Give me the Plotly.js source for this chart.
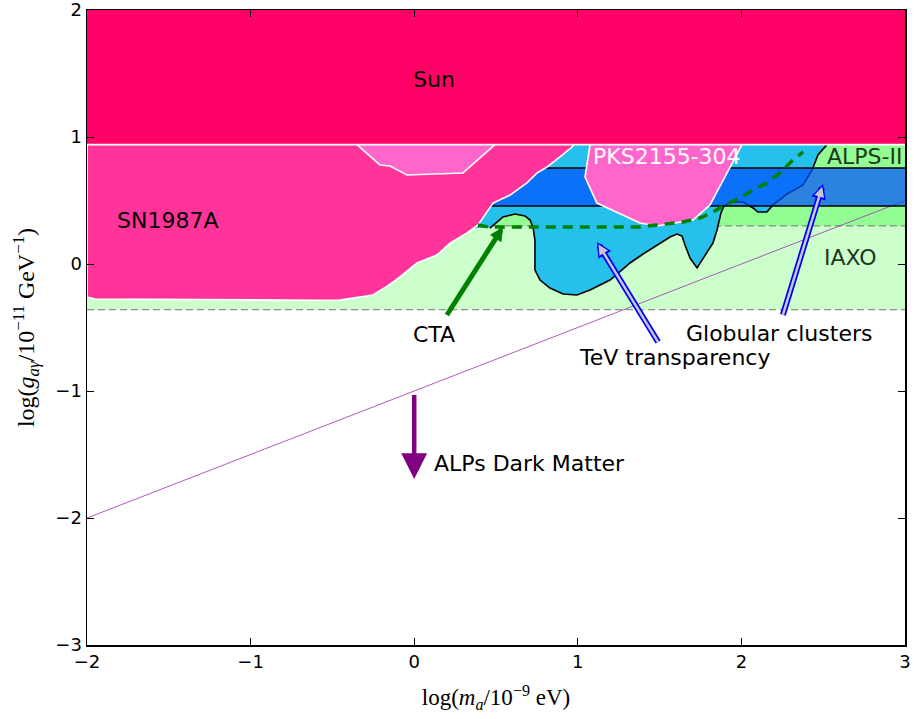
<!DOCTYPE html>
<html>
<head>
<meta charset="utf-8">
<script src="https://cdn.plot.ly/plotly-3.0.1.min.js"></script>
<style>html,body{margin:0;padding:0;background:#fff;}</style>
</head>
<body>
<div id="plot" style="width:914px;height:719px;"></div>
<script>
// ---- data ----
var x_range = [-2, 3];
var sun_low = 0.94, sun_high = 2;
var alps_low = 0.3;
var iaxo_low = -0.36;
var gc_low = 0.457, gc_high = 0.756;

// SN1987A excluded region boundary
var sn_x = [-2, -2, -1.95, -1.5, -1.0, -0.6, -0.454, -0.36, -0.252, -0.16, -0.087, 0.017, 0.139, 0.219, 0.323, 0.390, 0.482, 0.586, 0.689, 0.751, 0.812, 0.891, 0.965, 0.975];
var sn_y = [0.94, -0.26, -0.275, -0.28, -0.285, -0.285, -0.283, -0.265, -0.244, -0.17, -0.102, 0.008, 0.071, 0.165, 0.244, 0.307, 0.480, 0.543, 0.638, 0.717, 0.764, 0.843, 0.921, 0.94];

// PKS2155-304 regions
var pks1_x = [-0.35, -0.209, -0.148, -0.044, 0.298, 0.494];
var pks1_y = [0.94, 0.780, 0.772, 0.701, 0.717, 0.94];
var pks2_x = [1.075, 1.044, 1.117, 1.250, 1.380, 1.484, 1.704, 1.808, 1.930, 2.004];
var pks2_y = [0.94, 0.685, 0.480, 0.400, 0.323, 0.299, 0.346, 0.465, 0.764, 0.94];

// TeV transparency region, lower contour
var tev_x = [0.463, 0.506, 0.543, 0.616, 0.677, 0.708, 0.726, 0.738, 0.738, 0.769, 0.830, 0.910, 0.995, 1.075, 1.197, 1.270, 1.319, 1.399, 1.484, 1.564, 1.606, 1.637, 1.655, 1.686, 1.729, 1.753, 1.790, 1.826, 1.851, 1.875, 1.894, 1.930, 2.010, 2.071, 2.101, 2.156, 2.193, 2.279, 2.377, 2.432, 2.468, 2.493, 2.523];
var tev_y = [0.283, 0.331, 0.370, 0.394, 0.378, 0.346, 0.291, 0.189, -0.047, -0.126, -0.189, -0.236, -0.244, -0.205, -0.126, -0.047, 0.008, 0.079, 0.150, 0.213, 0.236, 0.220, 0.150, 0.047, -0.031, 0.016, 0.087, 0.165, 0.268, 0.402, 0.457, 0.488, 0.488, 0.441, 0.409, 0.409, 0.465, 0.551, 0.622, 0.740, 0.858, 0.898, 0.94];
var tev_left = 0.35;

// CTA sensitivity (dashed)
var cta_x = [0.390, 0.46, 0.55, 0.80, 1.136, 1.380, 1.484, 1.643, 1.747, 1.826, 1.888, 1.991, 2.071, 2.156, 2.236, 2.315, 2.377];
var cta_y = [0.307, 0.29, 0.292, 0.291, 0.291, 0.291, 0.307, 0.331, 0.362, 0.409, 0.457, 0.520, 0.583, 0.638, 0.717, 0.819, 0.882];

// ALPs dark matter line
var dm_x = [-2, 3];
var dm_y = [-2, 0.5];

// ---- build traces ----
function rect(x0, x1, y0, y1) { return {x: [x0, x1, x1, x0, x0], y: [y0, y0, y1, y1, y0]}; }
var traces = [];
var r;
r = rect(x_range[0], x_range[1], iaxo_low, alps_low);
traces.push({x: r.x, y: r.y, fill: 'toself', fillcolor: '#ccffcc', line: {width: 0}, mode: 'lines', hoverinfo: 'skip'});
r = rect(x_range[0], x_range[1], alps_low, sun_low);
traces.push({x: r.x, y: r.y, fill: 'toself', fillcolor: '#93fc93', line: {width: 0}, mode: 'lines', hoverinfo: 'skip'});
// gray dashed boundaries
traces.push({x: x_range, y: [iaxo_low, iaxo_low], mode: 'lines', line: {color: '#777', width: 1, dash: '7px,4px'}, hoverinfo: 'skip'});
traces.push({x: x_range, y: [alps_low, alps_low], mode: 'lines', line: {color: '#777', width: 1, dash: '7px,4px'}, hoverinfo: 'skip'});
// dark matter line
traces.push({x: dm_x, y: dm_y, mode: 'lines', line: {color: '#9933aa', width: 0.8}, hoverinfo: 'skip'});
// TeV fill
var tfx = [tev_left].concat(tev_x).concat([tev_left, tev_left]);
var tfy = [tev_y[0]].concat(tev_y).concat([sun_low, tev_y[0]]);
traces.push({x: tfx, y: tfy, fill: 'toself', fillcolor: '#26c0ec', line: {width: 0}, mode: 'lines', hoverinfo: 'skip'});
traces.push({x: tev_x, y: tev_y, mode: 'lines', line: {color: '#000', width: 1.6}, hoverinfo: 'skip'});
// Globular clusters band
r = rect(x_range[0], x_range[1], gc_low, gc_high);
traces.push({x: r.x, y: r.y, fill: 'toself', fillcolor: 'rgba(0,80,255,0.7)', line: {width: 0}, mode: 'lines', hoverinfo: 'skip'});
traces.push({x: x_range, y: [gc_low, gc_low], mode: 'lines', line: {color: '#000', width: 1.6}, hoverinfo: 'skip'});
traces.push({x: x_range, y: [gc_high, gc_high], mode: 'lines', line: {color: '#000', width: 1.6}, hoverinfo: 'skip'});
// PKS regions
traces.push({x: pks2_x, y: pks2_y, fill: 'toself', fillcolor: '#ff66cc', line: {color: '#fff', width: 1.6}, mode: 'lines', hoverinfo: 'skip'});
// SN1987A
traces.push({x: sn_x, y: sn_y, fill: 'toself', fillcolor: '#ff3399', line: {color: '#fff', width: 1.6}, mode: 'lines', hoverinfo: 'skip'});
traces.push({x: pks1_x, y: pks1_y, fill: 'toself', fillcolor: '#ff66cc', line: {color: '#fff', width: 1.6}, mode: 'lines', hoverinfo: 'skip'});
// Sun
r = rect(x_range[0], x_range[1], sun_low, sun_high);
traces.push({x: r.x, y: r.y, fill: 'toself', fillcolor: '#ff0066', line: {width: 0}, mode: 'lines', hoverinfo: 'skip'});
traces.push({x: x_range, y: [sun_low, sun_low], mode: 'lines', line: {color: '#fff', width: 1.8}, hoverinfo: 'skip'});
// CTA
traces.push({x: cta_x, y: cta_y, mode: 'lines', line: {color: '#008000', width: 3.5, dash: '10px,7px'}, hoverinfo: 'skip'});

var txtFamily = 'DejaVu Sans, sans-serif';
function label(x, y, t, color, anchor) {
  return {x: x, y: y, text: t, showarrow: false, xanchor: anchor || 'center', yanchor: 'middle',
          font: {family: txtFamily, size: 22, color: color || '#000'}};
}
function arrow(x, y, ax, ay, color, w, head, size, standoff) {
  return {x: x, y: y, ax: ax, ay: ay, axref: 'x', ayref: 'y', xref: 'x', yref: 'y', text: ' ',
          font: {size: 2}, showarrow: true, arrowcolor: color, arrowwidth: w, arrowhead: head, arrowsize: size,
          standoff: standoff || 0, startstandoff: 0};
}
var annotations = [
  label(0.121, 1.449, 'Sun'),
  label(-1.505, 0.346, 'SN1987A'),
  label(1.545, 0.843, 'PKS2155-304', '#ffffff'),
  label(2.755, 0.843, 'ALPS-II', '#1b3a1b'),
  label(2.664, 0.055, 'IAXO', '#1b3a1b'),
  label(0.121, -0.559, 'CTA'),
  label(1.588, -0.740, 'TeV transparency'),
  label(2.230, -0.551, 'Globular clusters'),
  label(0.11, -1.567, 'ALPs Dark Matter', '#000', 'left'),
  arrow(0.543, 0.291, 0.188, -0.425, '#008000', 5, 2, 0.55),
  arrow(1.117, 0.173, 1.502, -0.638, '#0000ff', 6, 2, 0.5),
  arrow(1.117, 0.173, 1.502, -0.638, '#c8c8d0', 2.5, 2, 0.8, 3),
  arrow(2.499, 0.630, 2.248, -0.425, '#0000ff', 6, 2, 0.5),
  arrow(2.499, 0.630, 2.248, -0.425, '#c8c8d0', 2.5, 2, 0.8, 3),
  arrow(0, -1.693, 0, -1.008, '#800080', 4.5, 2, 1.15)
];

var axisCommon = {
  showgrid: false, zeroline: false, showline: true, linecolor: '#000', linewidth: 1.5,
  mirror: 'ticks', ticks: 'inside', ticklen: 7, tickwidth: 1, tickcolor: '#000',
  dtick: 1, ticklabeloverflow: 'allow',
  tickfont: {family: 'DejaVu Sans, sans-serif', size: 18, color: '#000'}
};
var layout = {
  width: 914, height: 719,
  margin: {l: 87, r: 9, t: 10, b: 74},
  paper_bgcolor: '#fff', plot_bgcolor: '#fff',
  showlegend: false,
  xaxis: Object.assign({}, axisCommon, {range: x_range, tick0: -2,
    title: {text: 'log(<i>m</i><sub><i>a</i></sub>/10<sup>−9</sup> eV)', standoff: 18,
            font: {family: 'Liberation Serif, DejaVu Serif, serif', size: 23, color: '#000'}}}),
  yaxis: Object.assign({}, axisCommon, {range: [-3, 2], tick0: -3,
    title: {text: 'log(<i>g</i><sub><i>aγ</i></sub>/10<sup>−11</sup> GeV<sup>−1</sup>)', standoff: 14,
            font: {family: 'Liberation Serif, DejaVu Serif, serif', size: 24, color: '#000'}}}),
  annotations: annotations
};
Plotly.newPlot('plot', traces, layout, {displayModeBar: false, staticPlot: true});
</script>
</body>
</html>
